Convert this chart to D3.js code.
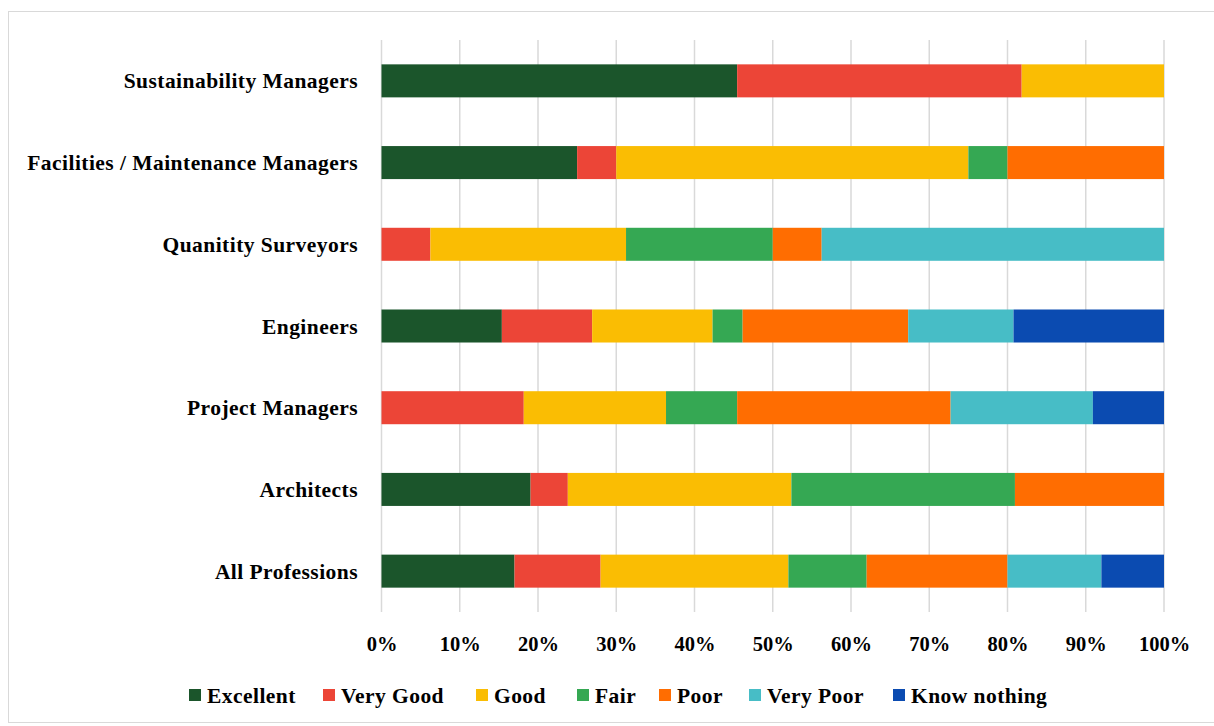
<!DOCTYPE html>
<html>
<head>
<meta charset="utf-8">
<script src="https://cdn.jsdelivr.net/npm/d3@7"></script>
<style>
  body { margin: 0; background: #fff; }
  text { font-family: "Liberation Serif", "Times New Roman", serif; font-weight: bold; fill: #000; }
</style>
</head>
<body>
<div id="chart"></div>
<script>
// Professions, top to bottom
const professions = [
  'Sustainability Managers',
  'Facilities / Maintenance Managers',
  'Quanitity Surveyors',
  'Engineers',
  'Project Managers',
  'Architects',
  'All Professions'
];

const ratings = ['Excellent', 'Very Good', 'Good', 'Fair', 'Poor', 'Very Poor', 'Know nothing'];
const colors = ['#1b552b', '#ec4537', '#fabd03', '#35a853', '#ff6d01', '#47bdc6', '#0b4bb1'];

// percentage of each profession per rating (same order as professions)
const excellent   = [45.45, 25, 0,     15.38, 0,     19.05, 17];
const veryGood    = [36.36, 5,  6.25,  11.54, 18.18, 4.76,  11];
const good        = [18.19, 45, 25,    15.39, 18.18, 28.57, 24];
const fair        = [0,     5,  18.75, 3.84,  9.09,  28.57, 10];
const poor        = [0,     20, 6.25,  21.16, 27.28, 19.05, 18];
const veryPoor    = [0,     0,  43.75, 13.46, 18.18, 0,     12];
const knowNothing = [0,     0,  0,     19.23, 9.09,  0,     8];

const tickValues = [0, 0.1, 0.2, 0.3, 0.4, 0.5, 0.6, 0.7, 0.8, 0.9, 1];

const series = [excellent, veryGood, good, fair, poor, veryPoor, knowNothing];
const rows = professions.map((p, i) => {
  const r = { profession: p };
  ratings.forEach((k, j) => r[k] = series[j][i] / 100);
  return r;
});

const W = 1214, H = 726;
const svg = d3.select('#chart').append('svg').attr('width', W).attr('height', H);

// outer frame
svg.append('rect')
  .attr('x', 8.5).attr('y', 11.5).attr('width', W - 8).attr('height', 711)
  .attr('fill', 'none').attr('stroke', '#d9d9d9');

const x = d3.scaleLinear().domain([0, 1]).range([381.5, 1164]);
const y = d3.scaleBand().domain(professions).range([40, 612]).paddingInner(0.596).paddingOuter(0.298);

// gridlines
svg.append('g')
  .selectAll('line')
  .data(tickValues)
  .join('line')
  .attr('x1', d => x(d)).attr('x2', d => x(d))
  .attr('y1', 40).attr('y2', 612)
  .attr('stroke', '#d9d9d9').attr('stroke-width', 1.5);

const stacked = d3.stack().keys(ratings)(rows);
const color = d3.scaleOrdinal().domain(ratings).range(colors);

svg.append('g')
  .selectAll('g')
  .data(stacked)
  .join('g')
  .attr('fill', d => color(d.key))
  .selectAll('rect')
  .data(d => d)
  .join('rect')
  .attr('x', d => x(d[0]))
  .attr('width', d => Math.max(0, x(d[1]) - x(d[0])))
  .attr('y', d => y(d.data.profession))
  .attr('height', y.bandwidth());

// category labels
svg.append('g')
  .selectAll('text')
  .data(professions)
  .join('text')
  .attr('x', 358)
  .attr('y', d => y(d) + y.bandwidth() / 2)
  .attr('dy', '0.35em')
  .attr('text-anchor', 'end')
  .style('font-size', '21.5px')
  .style('letter-spacing', '0.45px')
  .text(d => d);

// x axis tick labels
const xAxis = d3.axisBottom(x).tickValues(tickValues).tickFormat(d3.format('.0%')).tickSize(0).tickPadding(0);
const gx = svg.append('g').attr('transform', 'translate(0,636)').call(xAxis);
gx.select('.domain').remove();
gx.selectAll('text')
  .style('font-size', '20.5px')
  .style('font-family', '"Liberation Serif", serif')
  .style('font-weight', 'bold')
  .attr('fill', '#000');

// legend
const legendX = [189, 323, 476, 577, 659, 749, 893];
const legend = svg.append('g')
  .selectAll('g')
  .data(ratings)
  .join('g')
  .attr('transform', (d, i) => `translate(${legendX[i]},689)`);
legend.append('rect').attr('width', 12).attr('height', 12).attr('fill', d => color(d));
legend.append('text')
  .attr('x', 18).attr('y', 6).attr('dy', '0.35em')
  .style('font-size', '21.5px')
  .style('letter-spacing', '0.45px')
  .text(d => d);
</script>
</body>
</html>
